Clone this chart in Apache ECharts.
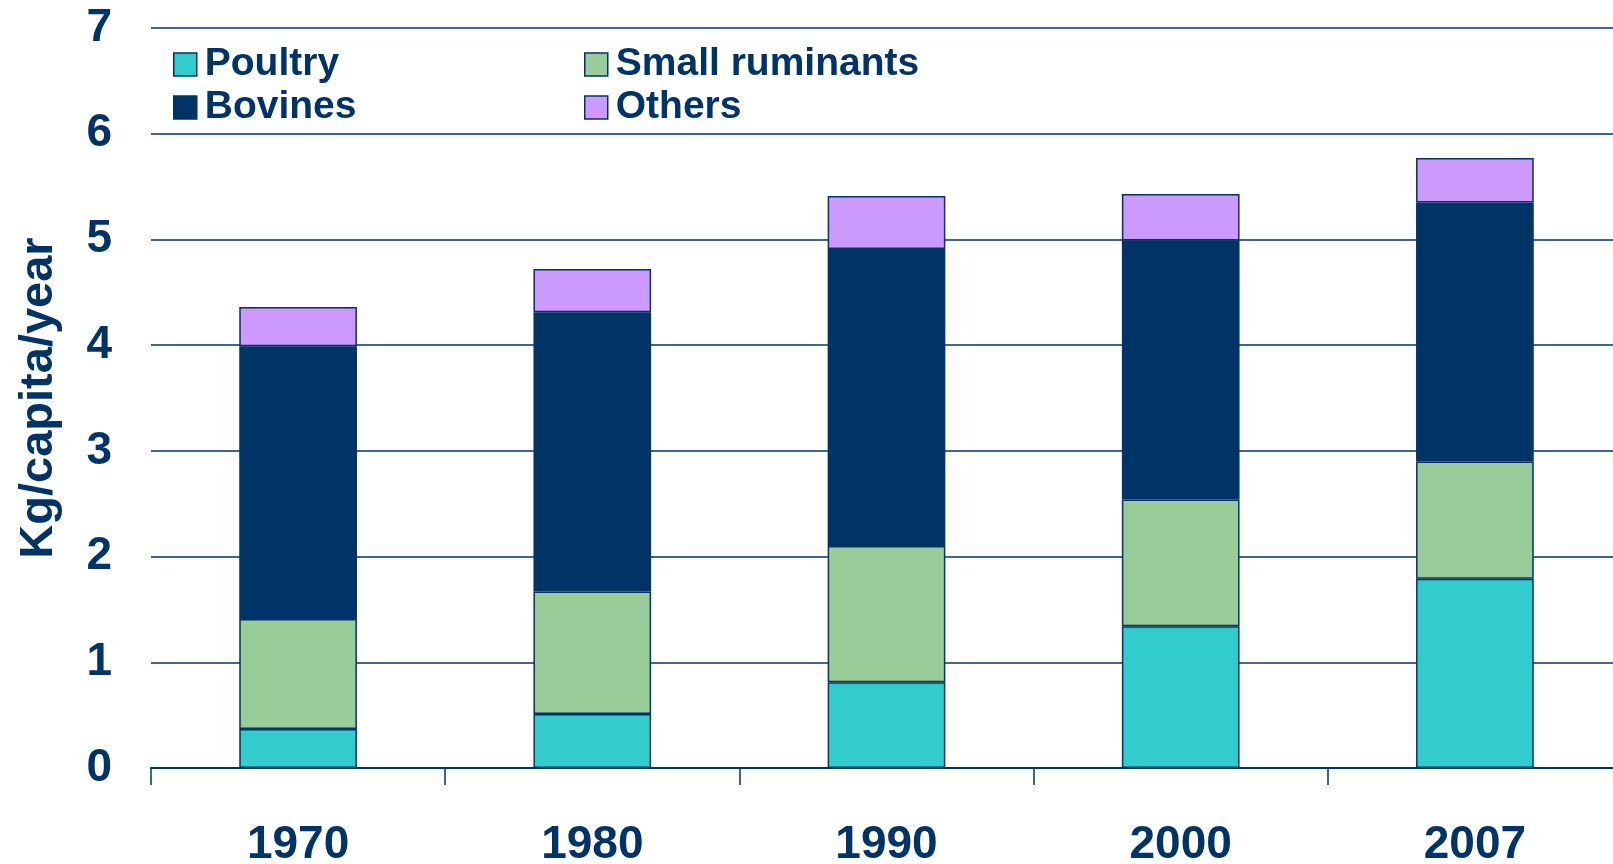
<!DOCTYPE html>
<html>
<head>
<meta charset="utf-8">
<script src="https://cdn.jsdelivr.net/npm/echarts@6/dist/echarts.min.js"></script>
<style>
  html, body { margin: 0; padding: 0; background: #fff; }
  #chart { width: 1613px; height: 864px; }
</style>
</head>
<body>
<div id="chart"></div>
<script>
const years = ['1970', '1980', '1990', '2000', '2007']
const poultry = [0.37, 0.51, 0.81, 1.34, 1.79]
const smallRuminants = [1.04, 1.16, 1.29, 1.20, 1.11]
const bovines = [2.58, 2.64, 2.81, 2.45, 2.45]
const others = [0.37, 0.41, 0.50, 0.44, 0.42]
const yTicks = [0, 1, 2, 3, 4, 5, 6, 7]

const navy = '#003366'
const font = '"Liberation Sans", Arial, sans-serif'

function bar(name, data, color) {
  return {
    name,
    type: 'bar',
    stack: 'meat',
    data,
    barWidth: '40%',
    itemStyle: { color, borderColor: navy, borderWidth: 1.5 }
  }
}

// two legend columns so the items line up like the original
function legendCol(left, names) {
  return {
    orient: 'vertical',
    left,
    top: 38,
    itemWidth: 23,
    itemHeight: 23,
    itemGap: 0,
    icon: 'rect',
    data: names,
    itemStyle: { borderColor: navy, borderWidth: 1.5 },
    textStyle: {
      color: navy, fontFamily: font, fontWeight: 'bold',
      fontSize: 39, lineHeight: 43, padding: [0, 0, 0, 3]
    }
  }
}

let myChart = echarts.init(document.getElementById('chart'))
myChart.setOption({
  animation: false,
  grid: { left: 151, width: 1471, top: 28, bottom: 96, outerBoundsMode: 'none', containLabel: false },
  legend: [
    legendCol(168, ['Poultry', 'Bovines']),
    legendCol(579, ['Small ruminants', 'Others'])
  ],
  xAxis: {
    type: 'category',
    data: years,
    axisLine: { lineStyle: { color: navy, width: 2 } },
    axisTick: { show: true, length: 17, lineStyle: { color: navy, width: 1.5 } },
    axisLabel: {
      color: navy, fontFamily: font, fontWeight: 'bold', fontSize: 46, margin: 54
    }
  },
  yAxis: {
    type: 'value',
    min: yTicks[0],
    max: yTicks[yTicks.length - 1],
    interval: 1,
    name: 'Kg/capita/year',
    nameLocation: 'middle',
    nameGap: 88,
    nameTextStyle: { color: navy, fontFamily: font, fontWeight: 'bold', fontSize: 47 },
    axisLine: { show: false },
    axisTick: { show: false },
    splitLine: { lineStyle: { color: navy, width: 1.6 } },
    axisLabel: {
      color: navy, fontFamily: font, fontWeight: 'bold', fontSize: 46, margin: 39
    }
  },
  series: [
    bar('Poultry', poultry, '#33CCCC'),
    bar('Small ruminants', smallRuminants, '#99CC99'),
    bar('Bovines', bovines, navy),
    bar('Others', others, '#CC99FF')
  ]
})
</script>
</body>
</html>
